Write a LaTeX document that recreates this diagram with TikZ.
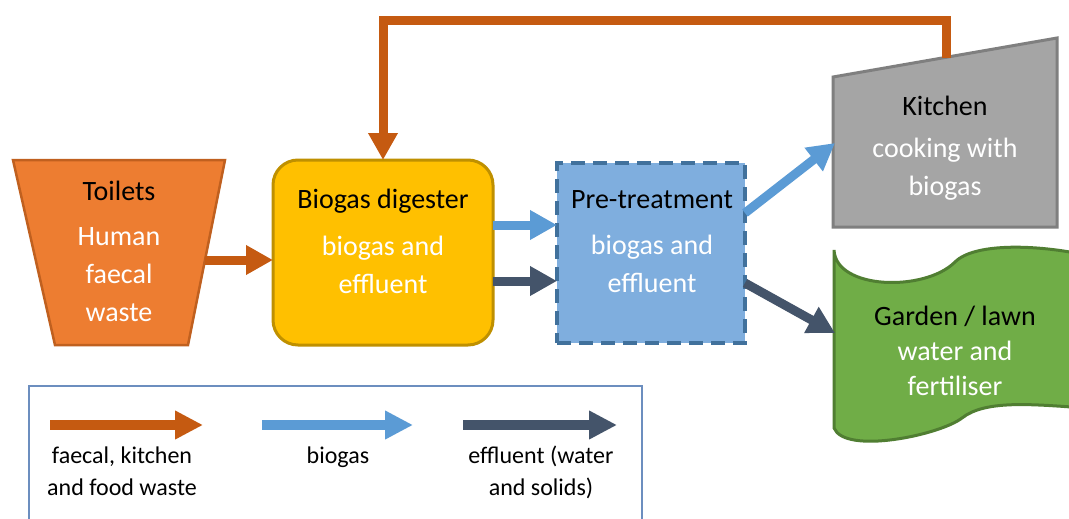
\documentclass[tikz,border=0pt]{standalone}
\usepackage{fontspec}
\setmainfont{Carlito}
\usetikzlibrary{arrows.meta}
\definecolor{orgfill}{HTML}{ED7D31}
\definecolor{orgline}{HTML}{C0601F}
\definecolor{orgarrow}{HTML}{C55A11}
\definecolor{yelfill}{HTML}{FFC000}
\definecolor{yelline}{HTML}{BF9000}
\definecolor{bluefill}{HTML}{7FAEDE}
\definecolor{blueline}{HTML}{41719C}
\definecolor{gasblue}{HTML}{5B9BD5}
\definecolor{effdark}{HTML}{44546A}
\definecolor{grayfill}{HTML}{A5A5A5}
\definecolor{grayline}{HTML}{7F7F7F}
\definecolor{grnfill}{HTML}{70AD47}
\definecolor{grnline}{HTML}{507E32}
\definecolor{legline}{HTML}{6C8EBF}
\begin{document}
\begin{tikzpicture}[x=1pt,y=-1pt,
  flow/.style={line width=9pt,-{Triangle[length=27pt,width=28pt]}},
  legflow/.style={line width=10pt,-{Triangle[length=28pt,width=27pt]}},
  waste/.style={draw=orgarrow},
  gas/.style={draw=gasblue},
  eff/.style={draw=effdark},
  lbl/.style={anchor=base,inner sep=0pt,font=\fontsize{28}{38}\selectfont},
  leglbl/.style={anchor=base,inner sep=0pt,font=\fontsize{24}{32}\selectfont},
  shapebox/.style={draw,inner sep=0pt,outer sep=0pt}
]
\useasboundingbox (0,0) rectangle (1069,519);
\clip (0,0) rectangle (1069,519);
\fill[white] (0,0) rectangle (1069,519);

% Toilets
\draw[fill=orgfill,draw=orgline,line width=2.5pt] (13,160) -- (225,160) -- (188,345) -- (55,345) -- cycle;
\coordinate (toiletout) at (205,260);
\node[lbl] (toilett) at (119,200) {\begin{tabular}[t]{@{}c@{}}Toilets\\[7pt]\color{white}Human\\\color{white}faecal\\\color{white}waste\end{tabular}};

% Digester
\node[shapebox,fill=yelfill,draw=yelline,line width=3pt,rounded corners=25pt,
  minimum width=220pt,minimum height=185pt] (dig) at (383,252.5) {};
\node[lbl] (digt) at (383,208) {\begin{tabular}[t]{@{}c@{}}Biogas digester\\[9pt]\color{white}biogas and\\\color{white}effluent\end{tabular}};

% Pre-treatment
\node[shapebox,fill=bluefill,draw=blueline,line width=4pt,dash pattern=on 14pt off 8pt,
  minimum width=188pt,minimum height=180pt] (pre) at (651,253) {};
\node[lbl] (pret) at (652,208) {\begin{tabular}[t]{@{}c@{}}Pre-treatment\\[8pt]\color{white}biogas and\\\color{white}effluent\end{tabular}};

% Kitchen
\draw[fill=grayfill,draw=grayline,line width=3pt] (833,77) -- (1057,38) -- (1057,227) -- (833,227) -- cycle;
\coordinate (kitin) at (835,143);
\coordinate (kittop) at (946,58);
\node[lbl] (kitt) at (945,115) {\begin{tabular}[t]{@{}c@{}}Kitchen\\[5pt]\color{white}cooking with\\\color{white}biogas\end{tabular}};

% Garden
\draw[fill=grnfill,draw=grnline,line width=3pt]
  (834,250) .. controls (836,290) and (925,292) .. (955,262)
  .. controls (975,242) and (1040,245) .. (1085,255) -- (1085,408)
  .. controls (1030,404) and (985,400) .. (962,418)
  .. controls (940,435) and (845,455) .. (834,428) -- cycle;
\coordinate (gardin) at (835,333);
\node[lbl,font=\fontsize{28}{35}\selectfont] (gardt) at (955,325) {\begin{tabular}[t]{@{}c@{}}Garden / lawn\\\color{white}water and\\\color{white}fertiliser\end{tabular}};

% Flows
\draw[flow,waste] (toiletout) -- (dig.west |- toiletout);
\draw[flow,gas] (dig.east |- 0,225) -- (pre.west |- 0,225);
\draw[flow,eff] (dig.east |- 0,281) -- (pre.west |- 0,281);
\draw[flow,gas] (pre.east |- 0,213) -- (kitin);
\draw[flow,eff] (pre.east |- 0,283) -- (gardin);
\draw[flow,waste,line join=miter] (kittop) -- (kittop |- 0,21) -| (dig.north);

% Legend
\draw[draw=legline,line width=1.5pt] (29,386) rectangle (642,560);
\coordinate (l1a) at (50,425); \coordinate (l1b) at (203,425);
\coordinate (l2a) at (262,425); \coordinate (l2b) at (413,425);
\coordinate (l3a) at (463,425); \coordinate (l3b) at (617,425);
\draw[legflow,waste] (l1a) -- (l1b);
\draw[legflow,gas] (l2a) -- (l2b);
\draw[legflow,eff] (l3a) -- (l3b);
\node[leglbl] (leg1) at (122,463) {\begin{tabular}[t]{@{}c@{}}faecal, kitchen\\and food waste\end{tabular}};
\node[leglbl] (leg2) at (338,463) {biogas};
\node[leglbl] (leg3) at (541,463) {\begin{tabular}[t]{@{}c@{}}effluent (water\\and solids)\end{tabular}};
\end{tikzpicture}
\end{document}
